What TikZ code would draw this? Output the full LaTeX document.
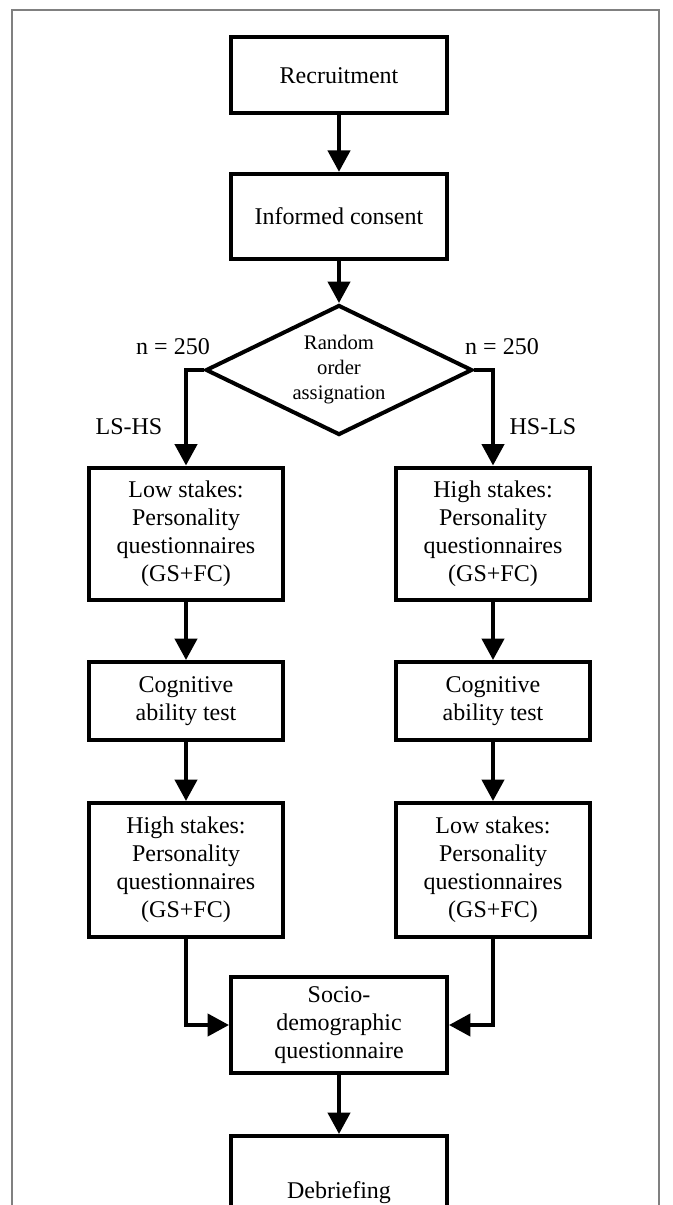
\documentclass[tikz,border=0pt]{standalone}
\usepackage{fontspec}
\setmainfont{Liberation Serif}
\usetikzlibrary{arrows.meta,shapes.geometric}
\tikzset{
  box/.style={draw, line width=3pt, align=center, inner sep=0pt, minimum width=#1, font=\fontsize{18}{21}\selectfont},
  box/.default={162pt},
  sidebox/.style={box=146pt},
  decision/.style={draw, line width=3pt, diamond, aspect=2, inner sep=0pt, align=center, minimum width=200pt, minimum height=97.5pt, font=\fontsize{15.5}{18.75}\selectfont},
  arrow/.style={-{Triangle[length=16pt, width=16.5pt]}, line width=3pt},
  lbl/.style={font=\fontsize{18}{21}\selectfont, inner sep=0pt}
}

\begin{document}
\begin{tikzpicture}[x=0.75pt, y=-0.75pt]
  \useasboundingbox (0,0) rectangle (672,1205);
  \draw[gray, line width=0.8pt] (12,1300) -- (12,10) -- (659,10) -- (659,1300);
  % main column
  \node[box, minimum height=57pt] (rec) at (339,75.5) {Recruitment};
  \node[box, minimum height=64pt] (ic) at (339,216.5) {Informed consent};
  \node[decision] (rnd) at (339,370) {Random\\ order\\ assignation};
  % branches
  \node[sidebox, minimum height=99pt] (ls1) at (186,533.5) {Low stakes:\\ Personality\\ questionnaires\\ (GS+FC)};
  \node[sidebox, minimum height=99pt] (hs1) at (493,533.5) {High stakes:\\ Personality\\ questionnaires\\ (GS+FC)};
  \node[sidebox, minimum height=58.5pt] (cogl) at (186,701) {Cognitive\\ ability test};
  \node[sidebox, minimum height=58.5pt] (cogr) at (493,701) {Cognitive\\ ability test};
  \node[sidebox, minimum height=100.5pt] (hs2) at (186,870) {High stakes:\\ Personality\\ questionnaires\\ (GS+FC)};
  \node[sidebox, minimum height=100.5pt] (ls2) at (493,870) {Low stakes:\\ Personality\\ questionnaires\\ (GS+FC)};
  \node[box, minimum height=72pt] (soc) at (339,1025) {Socio-\\ demographic\\ questionnaire};
  \node[box, minimum height=85.5pt] (deb) at (339,1193) {Debriefing};
  % labels
  \node[lbl] (nl) at (173,347) {n = 250};
  \node[lbl] (nr) at (502,347) {n = 250};
  \node[lbl] (lshs) at (129,427) {LS-HS};
  \node[lbl] (hsls) at (543,427) {HS-LS};
  % connectors
  \draw[arrow] (rec) -- (ic);
  \draw[arrow] (ic) -- (rnd);
  \draw[arrow] (rnd.west) -| (ls1.north);
  \draw[arrow] (rnd.east) -| (hs1.north);
  \draw[arrow] (ls1) -- (cogl);
  \draw[arrow] (hs1) -- (cogr);
  \draw[arrow] (cogl) -- (hs2);
  \draw[arrow] (cogr) -- (ls2);
  \draw[arrow] (hs2.south) |- (soc.west);
  \draw[arrow] (ls2.south) |- (soc.east);
  \draw[arrow] (soc) -- (deb);
\end{tikzpicture}
\end{document}
